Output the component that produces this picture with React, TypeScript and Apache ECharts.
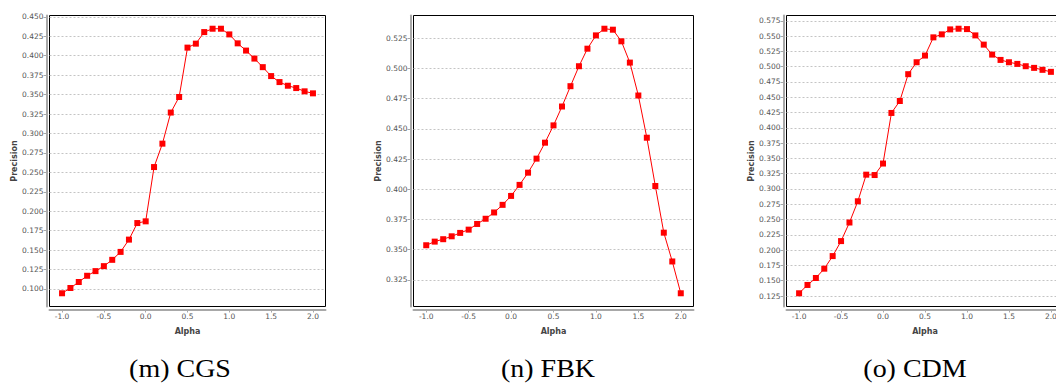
import React, { useEffect, useRef } from "react";
import * as echarts from "echarts";

const alphaValues = [
  -1.0, -0.9, -0.8, -0.7, -0.6, -0.5, -0.4, -0.3, -0.2, -0.1, 0.0, 0.1, 0.2, 0.3, 0.4, 0.5,
  0.6, 0.7, 0.8, 0.9, 1.0, 1.1, 1.2, 1.3, 1.4, 1.5, 1.6, 1.7, 1.8, 1.9, 2.0,
];

const cgsPrecision = [
  0.0945, 0.1013, 0.109, 0.117, 0.123, 0.1294, 0.1375, 0.1477, 0.1635, 0.1848, 0.187, 0.2568,
  0.2869, 0.3269, 0.3469, 0.4104, 0.4155, 0.4304, 0.4347, 0.4347, 0.4274, 0.4159, 0.4066,
  0.3963, 0.3853, 0.3738, 0.3661, 0.3614, 0.3584, 0.3542, 0.3516,
];

const fbkPrecision = [
  0.3537, 0.3567, 0.3587, 0.3611, 0.3639, 0.3666, 0.3713, 0.3756, 0.3808, 0.3871, 0.3945,
  0.4036, 0.4137, 0.4253, 0.4385, 0.4528, 0.4684, 0.4852, 0.5017, 0.5162, 0.5272, 0.5327,
  0.5319, 0.5223, 0.5047, 0.4775, 0.4426, 0.4027, 0.3641, 0.3403, 0.314,
];

const cdmPrecision = [
  0.1295, 0.1431, 0.1545, 0.1697, 0.1903, 0.2148, 0.2452, 0.2799, 0.3234, 0.3228, 0.3416,
  0.4243, 0.4438, 0.4877, 0.5072, 0.5181, 0.5479, 0.5528, 0.5609, 0.562, 0.5614, 0.5511,
  0.536, 0.5197, 0.511, 0.5072, 0.5045, 0.5007, 0.498, 0.4948, 0.4915,
];

const panels = [
  { caption: "(m) CGS", values: cgsPrecision },
  { caption: "(n) FBK", values: fbkPrecision },
  { caption: "(o) CDM", values: cdmPrecision },
];

const xAxisTitle = "Alpha";
const yAxisTitle = "Precision";

const gridBoxes = [
  { left: 49.5, top: 15.5, width: 276, height: 291 },
  { left: 413.5, top: 15.5, width: 280, height: 291 },
  { left: 786.5, top: 15.5, width: 277, height: 291 },
];
const captionCenters = [180, 548, 915];

const tickColor = "#a8a8a8";
const labelColor = "#555555";

function yFormatter(v: number) {
  const k = Math.round(v / 0.025);
  if (Math.abs(k * 0.025 - v) > 1e-7) return "";
  return v.toFixed(3);
}
function xFormatter(v: number) {
  const k = Math.round(v / 0.5);
  if (Math.abs(k * 0.5 - v) > 1e-7) return "";
  return v.toFixed(1);
}

export default function App() {
  const ref = useRef<HTMLDivElement>(null);
  useEffect(() => {
    if (!ref.current) return;
    const chart = echarts.init(ref.current, undefined, { renderer: "svg" });
    const option: any = {
      animation: false,
      backgroundColor: "#ffffff",
      grid: gridBoxes.map((g) => ({
        ...g,
        show: true,
        borderColor: "#000000",
        borderWidth: 1,
        backgroundColor: "#ffffff",
        containLabel: false,
      })),
      xAxis: panels.map((_, i) => ({
        type: "value",
        gridIndex: i,
        min: -1.15,
        max: 2.15,
        minInterval: 0.5,
        maxInterval: 0.5,
        offset: 3,
        axisLine: { show: true, onZero: false, lineStyle: { color: tickColor, width: 2 } },
        axisTick: { show: true, length: 3, lineStyle: { color: tickColor, width: 1 } },
        axisLabel: {
          fontSize: 7.5,
          color: labelColor,
          margin: 3,
          fontFamily: "DejaVu Sans",
          formatter: xFormatter,
          showMinLabel: false,
          showMaxLabel: false,
        },
        splitLine: { show: false },
        name: xAxisTitle,
        nameLocation: "middle",
        nameGap: 18,
        nameTextStyle: { fontWeight: "bold", fontSize: 8, color: "#444444", fontFamily: "DejaVu Sans" },
      })),
      yAxis: panels.map((_, i) => ({
        type: "value",
        gridIndex: i,
        min: (e: any) => e.min - 0.05 * (e.max - e.min),
        max: (e: any) => e.max + 0.05 * (e.max - e.min),
        minInterval: 0.025,
        maxInterval: 0.025,
        offset: 3,
        axisLine: { show: true, onZero: false, lineStyle: { color: tickColor, width: 2 } },
        axisTick: { show: true, length: 3, lineStyle: { color: tickColor, width: 1 } },
        axisLabel: {
          fontSize: 7.5,
          color: labelColor,
          margin: 3,
          fontFamily: "DejaVu Sans",
          formatter: yFormatter,
          showMinLabel: false,
          showMaxLabel: false,
        },
        splitLine: {
          show: true,
          showMinLine: false,
          showMaxLine: false,
          lineStyle: { color: "#c4c4c4", width: 1, type: [2, 2] },
        },
        name: yAxisTitle,
        nameLocation: "middle",
        nameGap: 28,
        nameRotate: 90,
        nameTextStyle: { fontWeight: "bold", fontSize: 8, color: "#444444", fontFamily: "DejaVu Sans" },
      })),
      series: panels.map((p, i) => ({
        type: "line",
        xAxisIndex: i,
        yAxisIndex: i,
        data: alphaValues.map((a, j) => [a, p.values[j]]),
        symbol: "rect",
        symbolSize: 6,
        showAllSymbol: true,
        lineStyle: { color: "#ff0000", width: 1 },
        itemStyle: { color: "#ff0000" },
        clip: false,
      })),
      graphic: panels.map((p, i) => ({
        type: "text",
        x: captionCenters[i],
        y: 369,
        scaleX: 1.12,
        style: {
          text: p.caption,
          x: 0,
          y: 0,
          align: "center",
          verticalAlign: "middle",
          fontFamily: "Liberation Serif",
          fontSize: 25,
          fill: "#000000",
        },
      })),
    };
    chart.setOption(option);
    return () => chart.dispose();
  }, []);
  return (
    <div
      style={{
        position: "fixed",
        left: 0,
        top: 0,
        width: 1056,
        height: 385,
        overflow: "hidden",
        background: "#ffffff",
      }}
    >
      <div ref={ref} style={{ width: 1072, height: 385 }} />
    </div>
  );
}
